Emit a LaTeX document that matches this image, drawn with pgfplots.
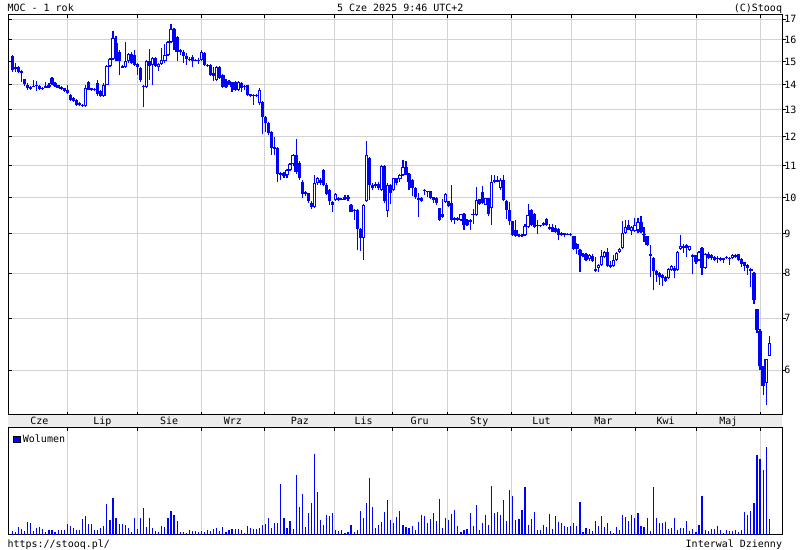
\documentclass[border=0pt]{standalone}
\usepackage{pgfplots}
\pgfplotsset{compat=1.18}
\usepackage{pgfplotstable}
\usepackage{fontspec}
\setmainfont{DejaVu Sans Mono}
\newlength\px
\setlength\px{0.75pt}
\definecolor{gridc}{RGB}{211,211,211}
\definecolor{bandc}{RGB}{236,236,236}
\definecolor{candle}{RGB}{0,0,255}

\pgfplotstableread{
i o h l c v
0 15.25 15.30 14.55 14.62 4
1 14.65 14.95 14.55 14.75 3
2 14.75 14.78 14.50 14.55 8
3 14.60 14.62 14.12 14.50 5.7
4 14.22 14.25 13.95 14.02 4
5 14.00 14.05 13.80 13.85 13
6 13.82 13.95 13.78 13.92 12
7 13.92 14.20 13.90 13.96 4
8 13.95 14.15 13.75 13.99 7
9 13.95 13.98 13.80 13.82 8
10 13.84 13.92 13.80 13.88 5.7
11 13.88 14.10 13.86 13.95 3
12 13.90 14.05 13.88 14.00 5
13 14.30 14.32 13.98 14.02 4.7
14 14.05 14.10 13.90 13.95 3
15 13.98 14.00 13.85 13.87 5
16 13.90 13.93 13.80 13.82 5
17 13.85 13.88 13.70 13.72 4.7
18 13.80 13.98 13.62 13.65 11
19 13.58 13.60 13.35 13.38 9
20 13.45 13.48 13.30 13.32 7
21 13.38 13.40 13.15 13.18 5.3
22 13.25 13.28 13.15 13.18 5.3
23 13.20 13.22 13.12 13.15 16.3
24 13.15 14.00 13.12 13.85 19
25 14.10 14.15 13.78 13.80 11
26 13.85 13.88 13.75 13.78 11
27 13.82 13.85 13.74 13.77 5.3
28 14.05 14.20 13.55 13.60 5.3
29 13.75 13.80 13.50 13.55 7
30 13.55 14.05 13.50 14.00 9
31 14.00 14.85 13.98 14.80 31
32 14.80 15.15 14.75 15.10 15.3
33 15.10 16.40 15.05 16.10 37
34 15.85 16.20 15.00 15.30 17
35 15.45 15.50 14.40 15.00 11
36 14.80 14.85 14.70 14.72 11
37 14.75 15.90 14.72 15.00 10
38 15.00 15.40 14.95 15.35 7
39 15.35 15.45 14.90 14.95 3
40 15.30 15.50 14.80 14.85 17
41 14.90 14.95 14.40 14.75 6
42 14.70 14.75 14.10 14.20 17
43 13.95 14.00 13.10 13.90 27
44 13.92 15.05 13.88 15.00 8
45 15.00 15.55 14.20 14.80 17
46 14.85 15.20 14.00 15.15 7
47 15.15 15.20 14.75 14.80 4
48 14.75 14.95 14.60 14.90 3
49 14.90 15.60 14.85 15.05 9
50 15.00 15.80 14.95 15.30 8
51 15.30 15.95 15.25 15.90 17
52 15.90 16.75 15.85 16.50 24
53 16.50 16.55 15.50 16.00 20.3
54 16.15 16.20 15.00 15.45 14
55 15.50 15.55 15.30 15.42 3
56 15.45 15.50 14.95 15.25 3
57 15.25 15.40 14.85 15.10 2
58 15.12 15.20 15.00 15.05 5
59 15.20 15.28 14.75 15.02 4
60 15.08 15.10 15.00 15.02 4
61 15.00 15.15 14.90 15.07 3
62 15.06 15.50 15.00 15.45 4
63 15.40 15.45 14.80 14.85 3
64 14.85 14.90 14.75 14.78 5
65 14.85 14.90 14.35 14.40 4
66 14.50 14.75 14.15 14.38 6
67 14.20 14.80 14.15 14.75 7
68 14.75 14.80 14.25 14.30 4
69 14.40 14.45 13.88 13.92 8
70 14.05 14.25 13.88 13.92 3
71 14.15 14.20 13.98 14.02 5
72 14.05 14.10 13.70 13.90 6
73 14.10 14.15 13.75 13.78 6
74 13.78 14.15 13.75 14.12 6
75 14.05 14.10 13.70 13.88 5
76 13.95 14.00 13.80 13.90 2
77 13.98 14.00 13.55 13.58 9
78 13.60 13.62 13.50 13.55 7
79 13.58 13.60 13.20 13.54 6
80 13.58 13.60 13.48 13.52 6
81 13.25 13.85 13.20 13.80 7
82 13.30 13.32 12.10 12.72 10
83 12.72 12.75 12.18 12.50 11
84 12.50 12.55 12.05 12.12 17
85 12.15 12.20 11.37 11.60 7
86 11.62 12.00 11.37 11.58 12
87 11.60 11.62 10.50 10.75 12
88 10.77 10.80 10.55 10.72 51
89 10.76 10.80 10.60 10.68 17
90 10.72 10.90 10.60 10.87 7
91 10.87 11.10 10.85 11.07 14
92 11.07 11.40 11.00 11.37 6
93 11.37 11.93 10.75 10.80 60
94 11.10 11.15 10.55 10.60 28
95 10.50 10.55 9.99 10.12 41
96 10.18 10.20 10.05 10.12 8
97 10.14 10.15 9.85 9.90 22
98 9.86 9.90 9.68 9.75 32
99 9.74 10.72 9.72 10.45 81
100 10.45 10.65 10.40 10.60 43
101 10.55 10.60 10.40 10.45 15
102 10.87 10.90 10.35 10.40 10
103 10.40 10.45 10.10 10.12 20
104 10.24 10.26 9.80 9.90 19
105 9.88 9.92 9.60 9.80 22
106 9.94 10.15 9.90 10.12 5
107 10.00 10.02 9.92 9.95 4
108 9.98 10.00 9.93 9.95 5
109 9.97 10.09 9.95 10.03 2
110 10.02 10.10 9.90 9.98 3
111 9.80 9.82 9.58 9.60 10
112 9.65 9.67 9.37 9.62 3
113 9.65 9.67 8.57 9.12 5
114 9.12 9.14 8.55 8.88 24
115 8.88 9.82 8.32 9.80 17
116 9.90 11.85 9.88 11.35 32
117 11.27 11.30 9.95 10.40 57
118 10.40 10.45 10.25 10.30 28
119 10.35 10.48 10.30 10.42 7
120 10.42 10.48 10.25 10.30 10
121 10.24 11.02 10.20 11.00 13
122 11.00 11.02 9.85 9.90 23
123 9.63 10.45 9.45 10.40 35
124 10.40 10.42 9.83 10.15 15
125 10.24 10.62 10.20 10.60 12
126 10.60 10.62 10.40 10.45 18
127 10.57 10.75 10.50 10.70 24
128 10.70 11.20 10.68 10.98 10
129 10.95 11.15 10.70 10.72 8
130 10.75 10.78 10.24 10.50 7
131 10.55 10.57 10.05 10.30 9
132 10.30 10.32 9.98 10.02 5
133 9.94 10.15 9.45 10.00 13
134 10.00 10.02 9.88 9.92 20
135 10.25 10.26 10.10 10.22 19
136 10.20 10.22 10.04 10.17 12
137 10.20 10.22 9.98 10.00 16
138 10.02 10.04 9.85 9.94 22
139 10.00 10.02 9.80 9.85 14
140 9.70 9.72 9.35 9.38 36
141 9.55 9.96 9.42 9.45 7
142 9.88 10.14 9.86 10.12 17
143 9.90 9.92 9.74 9.76 15
144 9.85 10.40 9.30 9.38 21
145 9.42 9.44 9.27 9.37 25
146 9.42 9.44 9.35 9.38 9
147 9.37 9.55 9.35 9.53 3
148 9.55 9.57 9.10 9.23 5
149 9.37 9.39 9.20 9.23 6
150 9.37 9.39 9.10 9.32 22
151 9.53 9.68 9.27 9.50 9
152 9.51 10.33 9.48 9.94 30
153 9.96 9.98 9.80 9.83 5
154 10.19 10.35 9.83 9.85 12
155 9.80 10.00 9.78 9.99 20
156 9.99 10.00 9.49 9.54 10
157 9.72 10.71 9.23 10.50 49
158 10.50 10.71 10.45 10.55 22
159 10.55 10.66 10.48 10.50 23
160 10.30 10.60 10.25 10.55 20
161 10.55 10.71 9.90 9.94 35
162 9.92 9.94 9.40 9.65 14
163 9.65 9.88 9.22 9.33 45
164 9.33 9.35 8.93 8.96 39
165 9.10 9.37 8.90 8.92 15
166 8.92 8.98 8.90 8.96 16
167 8.93 8.98 8.91 8.97 25
168 8.96 9.26 8.94 9.20 48
169 9.18 9.83 9.15 9.51 10
170 9.65 9.67 9.20 9.23 16
171 9.55 9.57 9.15 9.18 23
172 9.23 9.37 8.98 9.20 5
173 9.19 9.24 9.17 9.22 5
174 9.22 9.30 9.20 9.28 10
175 9.40 9.42 9.20 9.23 8
176 9.12 9.25 9.10 9.18 21
177 9.18 9.26 9.03 9.05 6
178 9.15 9.23 9.00 9.03 19
179 9.12 9.14 8.83 8.96 13
180 9.02 9.04 8.94 8.96 12
181 9.00 9.02 8.90 8.96 9
182 8.99 9.01 8.95 8.96 8
183 8.99 9.00 8.92 8.96 9
184 8.92 8.94 8.57 8.60 12
185 8.72 8.74 8.47 8.60 9
186 8.57 8.59 8.02 8.44 33
187 8.48 8.50 8.40 8.42 3
188 8.48 8.50 8.30 8.32 7
189 8.34 8.46 8.30 8.44 6
190 8.43 8.46 8.28 8.30 4
191 8.04 8.40 8.02 8.10 14
192 8.12 8.22 8.02 8.20 9
193 8.20 8.57 8.18 8.42 19
194 8.40 8.55 8.38 8.52 8
195 8.52 8.62 8.15 8.18 12
196 8.20 8.30 8.12 8.14 4
197 8.16 8.45 8.14 8.32 2
198 8.32 8.52 8.30 8.50 8
199 8.52 8.62 8.50 8.60 5
200 8.62 9.35 8.60 9.00 20
201 9.00 9.37 8.98 9.18 18
202 9.23 9.37 9.08 9.10 14
203 9.06 9.20 8.95 9.18 20
204 9.06 9.42 9.04 9.23 17
205 9.10 9.42 9.00 9.30 22
206 9.30 9.47 9.02 9.05 9
207 8.99 9.18 8.78 8.95 8
208 8.92 8.94 8.68 8.70 17
209 8.43 8.70 7.92 8.46 4
210 8.37 8.40 7.61 8.04 48
211 8.06 8.08 7.80 7.96 17
212 8.00 8.02 7.73 7.92 12
213 7.96 7.98 7.70 7.88 12
214 7.92 7.94 7.80 7.82 13
215 7.88 8.12 7.86 8.10 6
216 8.08 8.20 8.06 8.16 7
217 8.12 8.18 7.88 8.04 17
218 8.08 8.55 8.05 8.52 5
219 8.60 8.95 8.58 8.68 7
220 8.68 8.72 8.50 8.62 7
221 8.70 8.72 8.40 8.62 14
222 8.58 8.68 8.55 8.66 4
223 8.44 8.46 7.98 8.40 6
224 8.42 8.44 8.22 8.27 3
225 8.32 8.55 8.30 8.52 10
226 8.62 8.64 7.96 8.12 39
227 8.12 8.50 8.10 8.48 5
228 8.48 8.52 8.34 8.36 4
229 8.44 8.46 8.33 8.36 6
230 8.40 8.42 8.30 8.32 6
231 8.38 8.42 8.24 8.35 9
232 8.38 8.40 8.30 8.33 5
233 8.36 8.38 8.24 8.32 2
234 8.37 8.42 8.34 8.40 5
235 8.38 8.40 8.20 8.35 4
236 8.36 8.46 8.34 8.44 4
237 8.44 8.46 8.38 8.40 5
238 8.46 8.48 8.30 8.32 3
239 8.34 8.36 8.14 8.22 5
240 8.26 8.28 8.06 8.18 23
241 8.20 8.22 7.96 8.12 20
242 8.10 8.12 7.68 8.06 24
243 8.00 8.02 7.31 7.39 32
244 7.20 7.20 6.70 6.75 80
245 6.74 6.78 6.00 6.07 76
246 6.07 6.07 5.57 5.73 65
247 5.78 6.20 5.41 6.20 88
248 6.25 6.63 6.25 6.50 16
}\candles

\begin{document}
\fontsize{7.5pt}{9pt}\selectfont
\begin{tikzpicture}
\useasboundingbox (0,0) rectangle (800\px,550\px);
\fill[white] (0,0) rectangle (800\px,550\px);
\fill[bandc] (8\px,122\px) rectangle (782\px,135\px);

% price panel
\begin{axis}[
  at={(8\px,135\px)}, anchor=south west, scale only axis,
  width=774\px, height=400\px,
  xmin=-1.41, xmax=252.2, ymode=log, ymin=5.25, ymax=17.22,
  xtick={18,40.96,61.93,82.7,105.6,124.5,142.5,163.5,183.3,204.1,224.1,245.1},
  xticklabels={},
  ytick={6,7,8,9,10,11,12,13,14,15,16,17}, yticklabels={},
  tick align=inside, xtick pos=both, ytick pos=left,
  major tick length=3.5\px,
  grid=major, major grid style={gridc, line width=1\px},
  axis line style={line width=1\px, black},
  every tick/.style={line width=1\px, black},
]
\addplot[draw=none, mark=none, forget plot,
  error bars/.cd, y dir=plus, y explicit, error mark=none,
  error bar style={line width=1.15\px, draw=candle, solid}]
  table[x=i, y=l, y error plus expr={\thisrow{h}-\thisrow{l}}] {\candles};
\addplot[draw=none, mark=none, forget plot,
  error bars/.cd, y dir=plus, y explicit, error mark=none,
  error bar style={line width=3.3\px, draw=candle, solid}]
  table[x=i, y expr={min(\thisrow{o},\thisrow{c})}, y error plus expr={abs(\thisrow{c}-\thisrow{o})}] {\candles};
\addplot[draw=none, mark=none, forget plot,
  restrict expr to domain={\thisrow{c}/\thisrow{o}}{1.008:10},
  error bars/.cd, y dir=plus, y explicit, error mark=none,
  error bar style={line width=1.2\px, draw=white, solid, shorten <=1\px, shorten >=1\px}]
  table[x=i, y=o, y error plus expr={\thisrow{c}-\thisrow{o}}] {\candles};
\end{axis}

% overlay: right tick labels and month names
\begin{axis}[
  at={(8\px,135\px)}, anchor=south west, scale only axis,
  width=774\px, height=400\px,
  xmin=-1.41, xmax=252.2, ymode=log, ymin=5.25, ymax=17.22,
  xtick={8.9,29.5,51.4,72.3,94.2,115.1,133.5,153.0,173.4,193.7,214.1,234.6},
  xticklabels={Cze,Lip,Sie,Wrz,Paz,Lis,Gru,Sty,Lut,Mar,Kwi,Maj},
  xtick pos=left, x tick style={draw=none},
  xticklabel style={anchor=base, inner sep=0pt, yshift=-6.2\px},
  ytick={6,7,8,9,10,11,12,13,14,15,16,17},
  yticklabels={6,7,8,9,10,11,12,13,14,15,16,17},
  ytick pos=right, yticklabel pos=right,
  yticklabel style={anchor=west, inner sep=0pt, xshift=-1.5\px},
  tick align=outside, major tick length=3.5\px,
  /pgf/number format/assume math mode=true,
  axis line style={line width=1\px, black},
  every tick/.style={line width=1\px, black},
]
\end{axis}

% volume panel
\begin{axis}[
  at={(8\px,15\px)}, anchor=south west, scale only axis,
  width=774\px, height=107\px,
  xmin=-1.41, xmax=252.2, ymin=0, ymax=107,
  xtick={18,40.96,61.93,82.7,105.6,124.5,142.5,163.5,183.3,204.1,224.1,245.1},
  xticklabels={}, xtick pos=right, tick align=inside,
  major tick length=3.5\px,
  ytick=\empty,
  xmajorgrids, major grid style={gridc, line width=1\px},
  axis line style={line width=1\px, black},
  every tick/.style={line width=1\px, black},
  legend style={at={(0,1)}, anchor=north west, draw=none, fill=none,
    xshift=4\px, yshift=-3\px, inner sep=1\px,
    font=\fontsize{7.5pt}{9pt}\selectfont,
    /tikz/every even column/.append style={column sep=2\px}},
  legend image code/.code={\draw[fill=candle, draw=black, line width=0.6\px] (0\px,-3.2\px) rectangle (6.4\px,3.2\px);},
]
\addplot[ycomb, candle, line width=1.15\px, mark=none] table[x=i, y=v] {\candles};
\addlegendentry{Wolumen}
\end{axis}

\node[anchor=base west, inner sep=0pt] at (7.3\px,538.5\px) {MOC - 1 rok};
\node[anchor=base, inner sep=0pt] at (400.3\px,538.5\px) {5 Cze 2025 9:46 UTC+2};
\node[anchor=base east, inner sep=0pt] at (782.3\px,538.5\px) {(C)Stooq};
\node[anchor=base west, inner sep=0pt] at (7.3\px,2.7\px) {https://stooq.pl/};
\node[anchor=base east, inner sep=0pt] at (782.3\px,2.7\px) {Interwal Dzienny};
\end{tikzpicture}
\end{document}
